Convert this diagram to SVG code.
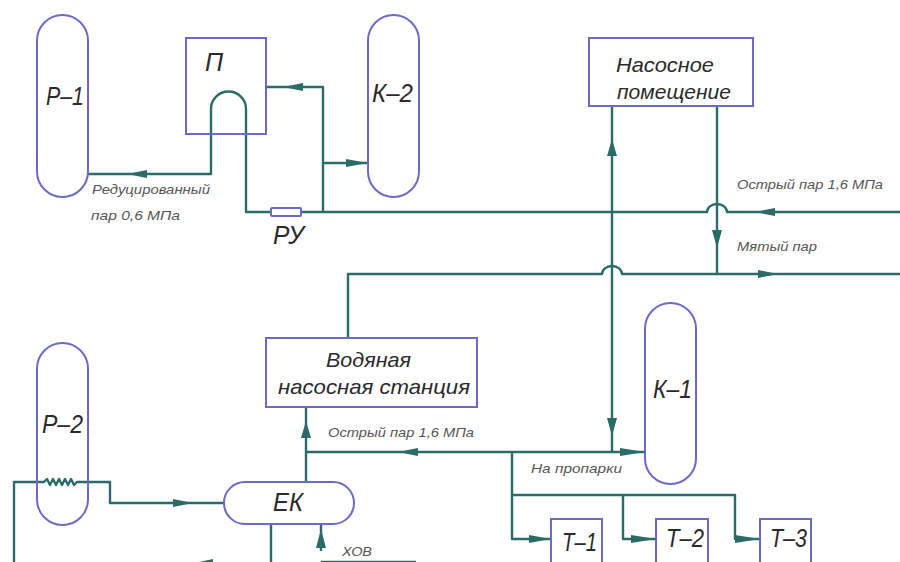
<svg xmlns="http://www.w3.org/2000/svg" width="900" height="562" viewBox="0 0 900 562">
<defs>
<style>
.n{fill:none;stroke:#6e68c6;stroke-width:2}
.c{fill:none;stroke:#2b6b68;stroke-width:2.400;stroke-linejoin:round}
.a{fill:#2b6b68;stroke:none}
text{font-family:"Liberation Sans",Arial,sans-serif;font-style:italic;fill:#2a2a2a;font-weight:400}
.l{font-size:25px}
.m{font-size:21px}
.s{font-size:13.500px;fill:#555}
</style>
</defs>
<rect width="900" height="562" fill="#fff"/>
<g id="connectors">
<path class="c" d="M88 174H211V109A17.500 17.500 0 0 1 246 109V212H271"/>
<path class="c" d="M301 212H707A10 8 0 0 1 727 212H900"/>
<path class="c" d="M266 87H323V212"/>
<path class="c" d="M323 163H368"/>
<path class="c" d="M612 106V452"/>
<path class="c" d="M717 106V274"/>
<path class="c" d="M348 338V274H602A10 8 0 0 1 622 274H900"/>
<path class="c" d="M306 482V407"/>
<path class="c" d="M306 452H645"/>
<path class="c" d="M512 452V539H551"/>
<path class="c" d="M512 495H735V539H760"/>
<path class="c" d="M623 495V539H656"/>
<path class="c" d="M14 562V482H44l3-3 3 6 3-6 3 6 3-6 3 6 3-6 3 6 3-6 3 6 3-3H110V503H224"/>
<path class="c" d="M271 524V562"/>
<path class="c" d="M321 551V524"/>
<path d="M321 561.500H416" fill="none" stroke="#2b6b68" stroke-width="1.500"/>
<path class="a" d="M127 174l20-4v8zM283 87l20-4v8zM368 163l-22-4v8zM612 139l5 17h-10zM717 248l-5-18h10zM755 212l20-4v8zM778 274l-20-4v8zM398 452l20-4v8zM612 436l-5-18h10zM645 452l-25-4v8zM306 421l5 17h-10zM193 503l-20-4v8zM321 529l5 19h-10zM551 539l-22-4v8zM656 539l-25-4v8zM760 539l-25-4v8zM213 559l-14 3h14z"/>
</g>
<g id="p1"><rect class="n" x="37" y="15" width="51" height="182" rx="25.500"/><text class="l" x="46" y="105" textLength="38" lengthAdjust="spacingAndGlyphs">Р–1</text></g>
<g id="k2"><rect class="n" x="368" y="15" width="51" height="182" rx="25.500"/><text class="l" x="372" y="102" textLength="41" lengthAdjust="spacingAndGlyphs">К–2</text></g>
<g id="p"><rect class="n" x="186" y="38" width="80" height="96"/><text class="l" x="205" y="71">П</text></g>
<g id="ru"><rect class="n" x="271" y="208" width="30" height="8" rx="1"/><text class="l" x="273" y="244" textLength="31" lengthAdjust="spacingAndGlyphs">РУ</text></g>
<g id="pump-room"><rect class="n" x="589" y="38" width="164" height="68"/><text class="m" x="616" y="72" textLength="98" lengthAdjust="spacingAndGlyphs">Насосное</text><text class="m" x="617" y="99" textLength="114" lengthAdjust="spacingAndGlyphs">помещение</text></g>
<g id="water-station"><rect class="n" x="266" y="338" width="211" height="69"/><text class="m" x="326" y="367" textLength="85" lengthAdjust="spacingAndGlyphs">Водяная</text><text class="m" x="278" y="394" textLength="192" lengthAdjust="spacingAndGlyphs">насосная станция</text></g>
<g id="p2"><rect class="n" x="37" y="343" width="51" height="182" rx="25.500"/><text class="l" x="42" y="433" textLength="41" lengthAdjust="spacingAndGlyphs">Р–2</text></g>
<g id="ek"><rect class="n" x="224" y="482" width="130" height="42" rx="21"/><text class="l" x="273" y="511" textLength="30" lengthAdjust="spacingAndGlyphs">ЕК</text></g>
<g id="k1"><rect class="n" x="645" y="303" width="51" height="181" rx="25.500"/><text class="l" x="653" y="398" textLength="39" lengthAdjust="spacingAndGlyphs">К–1</text></g>
<g id="t1"><path class="n" d="M551 562V519H602V562"/><text class="l" x="562" y="551" textLength="35" lengthAdjust="spacingAndGlyphs">Т–1</text></g>
<g id="t2"><path class="n" d="M656 562V519H708V562"/><text class="l" x="666" y="547" textLength="38" lengthAdjust="spacingAndGlyphs">Т–2</text></g>
<g id="t3"><path class="n" d="M760 562V519H811V562"/><text class="l" x="770" y="547" textLength="37" lengthAdjust="spacingAndGlyphs">Т–3</text></g>
<g id="labels">
<text class="s" x="92" y="194" textLength="118" lengthAdjust="spacingAndGlyphs">Редуцированный</text>
<text class="s" x="91" y="220" textLength="89" lengthAdjust="spacingAndGlyphs">пар 0,6 МПа</text>
<text class="s" x="737" y="189" textLength="146" lengthAdjust="spacingAndGlyphs">Острый пар 1,6 МПа</text>
<text class="s" x="737" y="251" textLength="80" lengthAdjust="spacingAndGlyphs">Мятый пар</text>
<text class="s" x="328" y="437" textLength="146" lengthAdjust="spacingAndGlyphs">Острый пар 1,6 МПа</text>
<text class="s" x="531" y="473" textLength="91" lengthAdjust="spacingAndGlyphs">На пропарки</text>
<text class="s" x="342" y="556" textLength="30" lengthAdjust="spacingAndGlyphs">ХОВ</text>
</g>
</svg>
